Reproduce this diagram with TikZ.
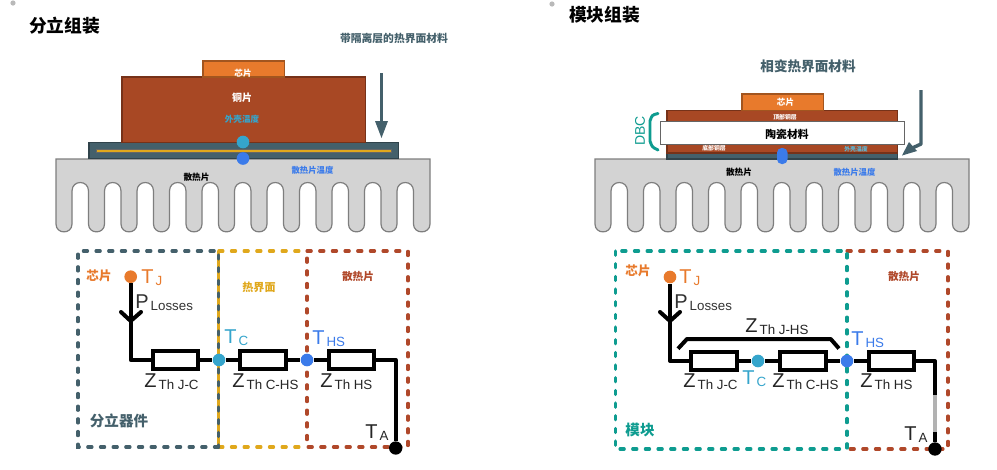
\documentclass[tikz,border=0pt]{standalone}
\usepackage{fontspec}
\setmainfont{Liberation Sans}
\newfontfamily\cjk{Noto Sans CJK SC}
\usetikzlibrary{calc}
\definecolor{slate}{HTML}{44606B}
\definecolor{copper}{HTML}{A84824}
\definecolor{chipor}{HTML}{E87A2C}
\definecolor{gold}{HTML}{E0A81C}
\definecolor{teal1}{HTML}{0E9C90}
\definecolor{tcblue}{HTML}{35A5CC}
\definecolor{hsblue}{HTML}{3B7BEA}
\definecolor{sinkfill}{HTML}{D3D3D3}
\definecolor{sinkline}{HTML}{7E7E7E}
\definecolor{dashred}{HTML}{B0482A}
\tikzset{
  x=0.75pt,y=-0.75pt,
  lbl/.style={font=\cjk\bfseries\fontsize{#1}{#1}\selectfont,inner sep=0pt,outer sep=0pt},
  lbl/.default=7.5,
  layer/.style={draw=#1!70!black,line width=0.8pt,inner sep=0pt,outer sep=0pt,fill=#1},
  dashbox/.style={draw=#1,line width=2.3pt,line cap=round,dash pattern=on 3.2pt off 6.3pt},
  wire/.style={draw=black,line width=3pt,line join=round},
  res/.style={draw=black,line width=3pt,fill=white,rectangle,minimum width=34pt,minimum height=13.5pt,inner sep=0pt},
  dot/.style={circle,fill=#1,minimum size=9.5pt,inner sep=0pt},
  symb/.style={inner sep=0pt,anchor=base west},
}
\newcommand{\ZT}[2]{{\fontsize{15}{15}\selectfont #1}\raisebox{-2.2pt}{\fontsize{10}{10}\selectfont\hspace{1.6pt}#2}}
\newcommand{\sink}[1]{%
  \begin{scope}[shift={(#1,0)}]
  \draw[fill=sinkfill,draw=sinkline,line width=0.9pt]
    (0,159) -- (374,159) -- (374,224)
    .. controls (374,234.5) and (357.5,234.5) .. (357.5,224)
    \foreach \i in {10,9,...,0} {
      -- ({32.5+32.5*\i},191)
      .. controls ({32.5+32.5*\i},179.7) and ({16+32.5*\i},179.7) .. ({16+32.5*\i},191)
      -- ({16+32.5*\i},224)
      .. controls ({16+32.5*\i},234.5) and ({32.5*\i},234.5) .. ({32.5*\i},224)
    }
    -- cycle;
  \end{scope}}
\begin{document}
\begin{tikzpicture}
\useasboundingbox (0,0) rectangle (997,469);
\fill[white] (0,0) rectangle (997,469);
% corner dots
\fill[gray!55] (13,3) circle (2.6);
\fill[gray!55] (552,4) circle (2.6);
% titles
\node[lbl=13.3,anchor=west] (t1) at (29,26) {分立组装};
\node[lbl=13.3,anchor=west] (t2) at (569,15) {模块组装};
% ---- left assembly
\sink{56}
\node[layer=slate,minimum width=232pt,minimum height=12pt,anchor=north west] (tim) at (89,142.5) {};
\fill[gold,draw=black!60,line width=0.3pt] (96,149) rectangle (391,152);
\node[layer=copper,minimum width=182.5pt,minimum height=49pt,anchor=north west] (cu) at (122,77) {};
\node[layer=chipor,minimum width=61pt,minimum height=12pt,anchor=north west] (chip) at (203,61) {};
\node[lbl=6.4,text=white] (l1) at (243,73) {芯片};
\node[lbl=7.5,text=white] (l2) at (242,97.5) {铜片};
\node[lbl=6.4,text=tcblue] (l3) at (242,119.5) {外壳温度};
\node[dot=tcblue] (d1) at (243,142) {};
\node[dot=hsblue] (d2) at (243,158.5) {};
\node[lbl=6.5,text=black] (l4) at (196.5,177) {散热片};
\node[lbl=6.3,text=hsblue] (l5) at (312.5,170) {散热片温度};
\node[lbl=8.1,text=slate] (l6) at (394,38.5) {带隔离层的热界面材料};
\coordinate (a1s) at (381.5,73);
\draw[slate,line width=2.6pt] (a1s) -- (381.5,125);
\fill[slate] (375,121) -- (388,121) -- (381.5,138) -- cycle;
% ---- right assembly
\sink{595}
\node[layer=slate,minimum width=173pt,minimum height=4.5pt,anchor=north west] (rtim) at (667,153) {};
\node[layer=copper,minimum width=173pt,minimum height=7.5pt,anchor=north west] (rcub) at (667,143) {};
\node[layer=copper,minimum width=173pt,minimum height=9pt,anchor=north west] (rcut) at (667,110.5) {};
\node[draw=sinkline!80!black,line width=0.8pt,fill=white,minimum width=183pt,minimum height=17.25pt,inner sep=0pt,anchor=north west] (cer) at (660,120.5) {};
\node[layer=chipor,minimum width=61pt,minimum height=12.4pt,anchor=north west] (rchip) at (742,94) {};
\node[lbl=6.4,text=white] (r1) at (785.5,102) {芯片};
\node[lbl=4.4,text=white] (r2) at (785,117) {顶部铜层};
\node[lbl=8.1,text=black] (r3) at (787,134.5) {陶瓷材料};
\node[lbl=4.4,text=white] (r4) at (714,148) {底部铜层};
\node[lbl=4.4,text=tcblue!80!white] (r5) at (856,149) {外壳温度};
\node[lbl=6.5,text=black] (r6) at (739,172) {散热片};
\node[lbl=6.3,text=hsblue] (r7) at (854.5,172) {散热片温度};
\node[lbl=10.2,text=slate] (r8) at (808,66.5) {相变热界面材料};
\fill[hsblue,rounded corners=3.5pt] (777,148) rectangle (787.5,164);
\node[font=\fontsize{10.5}{10.5}\selectfont,text=teal1,rotate=90,inner sep=0pt] (dbc) at (640,131) {DBC};
\draw[teal1,line width=2.2pt,line cap=round] (658,113.5) .. controls (652,115) .. (650,121) -- (650,141) .. controls (652,147) .. (658,150);
\coordinate (a2s) at (921,90);
\coordinate (a2k) at (921,144);
\draw[slate,line width=2.6pt,line join=round] (a2s) -- (a2k) -- (908,150);
\fill[slate] (902,155.5) -- (909,142) -- (917,151) -- cycle;
% ---- left circuit
\draw[dashbox=gold] (218.7,251) -- (307,251);
\draw[dashbox=gold] (218.7,447) -- (307,447);
\draw[gold,line width=2.3pt] (218.7,251) -- (218.7,447);
\draw[dashbox=slate] (218.7,447) -- (78,447) -- (78,251) -- (218.7,251) -- (218.7,447);
\draw[dashbox=dashred] (307,251) -- (408,251) -- (408,447) -- (307,447) -- cycle;
\node[dot=chipor] (TJ) at (130.7,276.7) {};
\coordinate (k1) at (130.7,360);
\node[res] (R1) at (175.5,360) {};
\node[dot=tcblue] (TC) at (219,360) {};
\node[res] (R2) at (263,360) {};
\node[dot=hsblue] (THS) at (307,360) {};
\node[res] (R3) at (351.5,360) {};
\coordinate (k2) at (395.7,360);
\node[circle,fill=black,minimum size=10pt,inner sep=0pt] (TA) at (395.7,448) {};
\draw[wire] (TJ) -- (k1) -- (R1);
\draw[wire] (R1) -- (TC) (TC) -- (R2) (R2) -- (THS) (THS) -- (R3);
\draw[wire] (R3) -- (k2) -- (TA);
\draw[wire,line cap=round,line join=miter] (121,312) -- (130.7,321) -- (141,312);
\node[lbl=9.4,text=chipor] (c1) at (99,275.5) {芯片};
\node[lbl=8.3,text=gold] (c2) at (259,287.5) {热界面};
\node[lbl=8,text=dashred] (c3) at (358,276) {散热片};
\node[lbl=10.9,text=slate] (c4) at (119,420.5) {分立器件};
\node[symb,text=chipor] (n1) at (141,283) {\ZT{T}{J}};
\node[symb,text=black!80] (n2) at (135,308) {\ZT{P}{Losses}};
\node[symb,text=tcblue] (n3) at (224,343) {\ZT{T}{C}};
\node[symb,text=hsblue] (n4) at (312,344) {\ZT{T}{HS}};
\node[symb,text=black!85] (n5) at (144,387) {\ZT{Z}{Th J-C}};
\node[symb,text=black!85] (n6) at (232,387) {\ZT{Z}{Th C-HS}};
\node[symb,text=black!85] (n7) at (320,387) {\ZT{Z}{Th HS}};
\node[symb,text=black!85] (n8) at (365,438) {\ZT{T}{A}};
% ---- right circuit
\draw[dashbox=dashred] (847,251) -- (948,251) -- (948,449) -- (847,449);
\draw[dashbox=teal1] (615.3,251) rectangle (847,449);
\node[dot=chipor] (rTJ) at (670,277) {};
\coordinate (rk1) at (670,361);
\node[res] (rR1) at (714,361) {};
\node[dot=tcblue] (rTC) at (758,361) {};
\node[res] (rR2) at (803,361) {};
\node[dot=hsblue] (rTHS) at (847,361) {};
\node[res] (rR3) at (891.5,361) {};
\coordinate (rk2) at (935,361);
\node[circle,fill=black,minimum size=10pt,inner sep=0pt] (rTA) at (935,449) {};
\draw[wire] (rTJ) -- (rk1) -- (rR1);
\draw[wire] (rR1) -- (rTC) (rTC) -- (rR2) (rR2) -- (rTHS) (rTHS) -- (rR3);
\draw[wire] (rR3) -- (rk2) -- (rTA);
\draw[gray!60,line width=3pt] (935,395) -- (935,432);
\draw[wire,line cap=round,line join=miter] (660,312) -- (670,321) -- (680,312);
\draw[wire,line cap=butt] (678,348.7) -- (687,339) -- (830.7,339) -- (839,348.5);
\node[lbl=9.4,text=chipor] (rc1) at (638,270.5) {芯片};
\node[lbl=8,text=dashred] (rc3) at (904,276) {散热片};
\node[lbl=10.9,text=teal1] (rc4) at (640,430) {模块};
\node[symb,text=chipor] (rn1) at (679,283) {\ZT{T}{J}};
\node[symb,text=black!80] (rn2) at (674,308) {\ZT{P}{Losses}};
\node[symb,text=black!85] (rn3) at (745,332) {\ZT{Z}{Th J-HS}};
\node[symb,text=hsblue] (rn4) at (851,345) {\ZT{T}{HS}};
\node[symb,text=black!85] (rn5) at (683,387) {\ZT{Z}{Th J-C}};
\node[symb,text=tcblue] (rn6) at (742,384) {\ZT{T}{C}};
\node[symb,text=black!85] (rn7) at (772,387) {\ZT{Z}{Th C-HS}};
\node[symb,text=black!85] (rn8) at (860,387) {\ZT{Z}{Th HS}};
\node[symb,text=black!85] (rn9) at (904,440) {\ZT{T}{A}};
\end{tikzpicture}
\end{document}
